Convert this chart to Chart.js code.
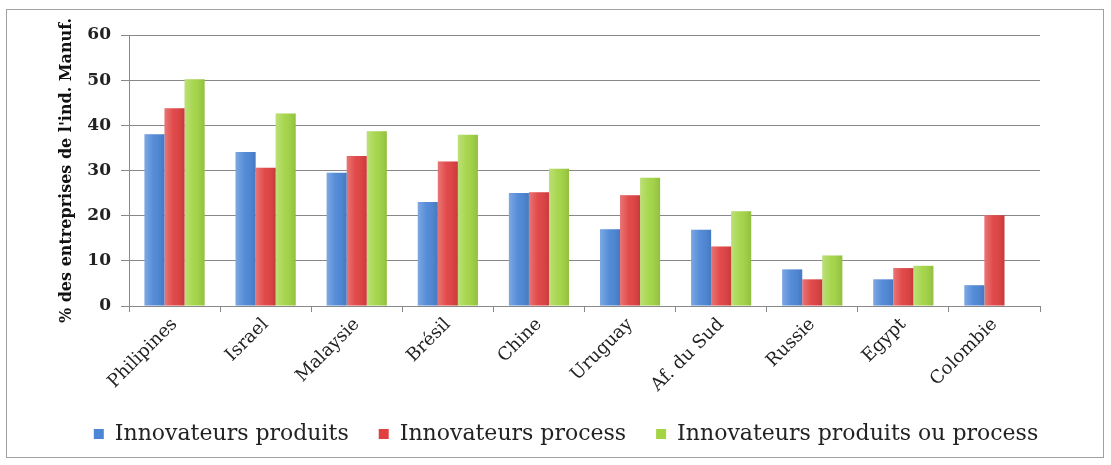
<!DOCTYPE html>
<html>
<head>
<meta charset="utf-8">
<script src="https://cdn.jsdelivr.net/npm/chart.js@4"></script>
<style>
  html, body { margin: 0; padding: 0; background: #fff; }
  #frame {
    position: absolute; left: 6px; top: 9px;
    width: 1096px; height: 447px;
    border: 1px solid #a0a0a0;
  }
</style>
</head>
<body>
<div id="frame"><canvas id="chart-bar"></canvas></div>
<script>
// pays
var pays = ["Philipines", "Israel", "Malaysie", "Brésil", "Chine", "Uruguay", "Af. du Sud", "Russie", "Egypt", "Colombie"];
// % des entreprises
var innovProduits = [38, 34.1, 29.5, 23, 25, 17, 16.9, 8.1, 5.9, 4.6];
var innovProcess = [43.8, 30.6, 33.2, 32, 25.2, 24.5, 13.2, 5.9, 8.4, 20.1];
var innovProduitsOuProcess = [50.2, 42.6, 38.7, 37.9, 30.4, 28.4, 21, 11.2, 8.9, null];
var yTicks = [0, 10, 20, 30, 40, 50, 60];

var serif = "'DejaVu Serif', 'Liberation Serif', serif";

// petit reflet sur chaque barre (clair à gauche, sombre à droite)
var barShine = {
  id: 'barShine',
  afterDatasetsDraw: function (chart) {
    var c = chart.ctx;
    chart.data.datasets.forEach(function (ds, i) {
      var meta = chart.getDatasetMeta(i);
      meta.data.forEach(function (bar) {
        var p = bar.getProps(['x', 'y', 'base', 'width'], true);
        if (p.y == null || isNaN(p.y)) return;
        var l = p.x - p.width / 2;
        var g = c.createLinearGradient(l, 0, l + p.width, 0);
        g.addColorStop(0, 'rgba(255,255,255,0.28)');
        g.addColorStop(0.45, 'rgba(255,255,255,0.05)');
        g.addColorStop(1, 'rgba(0,0,0,0.10)');
        c.save();
        c.fillStyle = g;
        c.fillRect(l, p.y, p.width, p.base - p.y);
        c.restore();
      });
    });
  }
};

var ctx = document.getElementById("chart-bar");
var myBarChart = new Chart(ctx, {
  type: 'bar',
  plugins: [barShine],
  data: {
    labels: pays,
    datasets: [{
      label: "Innovateurs produits",
      data: innovProduits,
      backgroundColor: "#4c86d6"
    }, {
      label: "Innovateurs process",
      data: innovProcess,
      backgroundColor: "#e04040"
    }, {
      label: "Innovateurs produits ou process",
      data: innovProduitsOuProcess,
      backgroundColor: "#a2d444"
    }]
  },
  options: {
    responsive: true,
    maintainAspectRatio: false,
    animation: false,
    layout: { padding: { left: 22, top: 25, right: 0, bottom: 2 } },
    datasets: {
      bar: { categoryPercentage: 0.66, barPercentage: 1.0 }
    },
    plugins: {
      tooltip: { enabled: false },
      legend: {
        position: 'bottom',
        labels: {
          boxWidth: 10,
          boxHeight: 10,
          padding: 30,
          color: '#222',
          font: { family: serif, size: 22 }
        }
      }
    },
    scales: {
      x: {
        afterFit: function (scale) { scale.height = 87; },
        grid: {
          offset: true,
          drawOnChartArea: false,
          tickLength: 6,
          color: '#888'
        },
        border: { color: '#888' },
        ticks: {
          maxRotation: 45,
          minRotation: 45,
          padding: 2,
          color: '#222',
          font: { family: serif, size: 18 }
        }
      },
      y: {
        min: 0,
        max: 60,
        afterFit: function (scale) { scale.width = 100; },
        afterBuildTicks: function (scale) {
          scale.ticks = yTicks.map(function (v) { return { value: v }; });
        },
        grid: { color: '#888', tickLength: 8 },
        border: { color: '#888' },
        ticks: {
          padding: 10,
          color: '#222',
          font: { family: serif, size: 17, weight: 'bold' }
        },
        title: {
          display: true,
          text: "% des entreprises de l'ind. Manuf.",
          color: '#111',
          padding: { top: 28, bottom: 0 },
          font: { family: serif, size: 16, weight: 'bold' }
        }
      },
      // marge vide à droite du graphique
      yDroite: {
        position: 'right',
        min: 0,
        max: 60,
        afterFit: function (scale) { scale.width = 63; },
        grid: { drawOnChartArea: false, drawTicks: false },
        border: { display: false },
        ticks: { display: false }
      }
    }
  }
});
</script>
</body>
</html>
